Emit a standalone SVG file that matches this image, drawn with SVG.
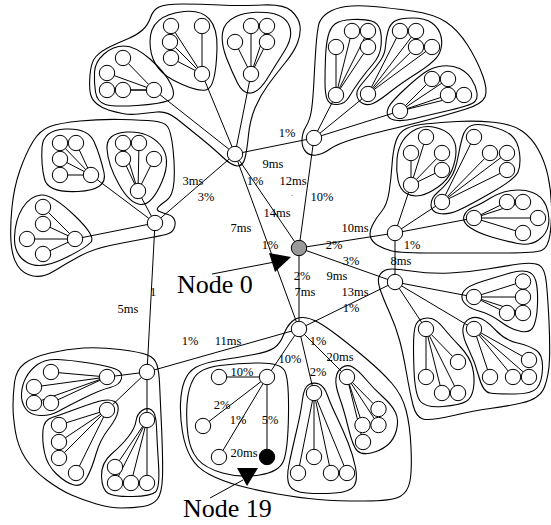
<svg xmlns="http://www.w3.org/2000/svg" width="551" height="525" viewBox="0 0 551 525">
<style>
.o{fill:none;stroke:#000;stroke-width:1.1}
.e{fill:none;stroke:#000;stroke-width:1}
.n circle{fill:#fff;stroke:#000;stroke-width:1}
.t{font-family:"Liberation Serif","Times New Roman",serif;font-size:12.5px;text-anchor:middle;fill:#000}
.big{font-family:"Liberation Serif","Times New Roman",serif;font-size:26px;fill:#000}
</style>
<rect width="551" height="525" fill="#fff"/>
<g id="outlines">
<path class="o" d="M90,75 Q91,62 96,56.5 Q101,51 110.5,46.5 Q120,42 128.5,38.5 Q137,35 142.5,30 Q148,25 150.5,17.5 Q153,10 159,7 Q165,4 182.5,4 Q200,4 220,5 Q240,6 262,5 Q284,4 291.5,11 Q299,18 300,26 Q301,34 297.5,43 Q294,52 285,63 Q276,74 268,85 Q260,96 255,108 Q250,120 248.5,135 Q247,150 245,158 Q243,166 237.5,166 Q232,166 222.5,157 Q213,148 200,137.5 Q187,127 177,119 Q167,111 157,112 Q147,113 138.5,114 Q130,115 122.5,113.5 Q115,112 108.5,110 Q102,108 97,104 Q92,100 90.5,94 Q89,88 90,75 Z"/>
<path class="o" d="M94.5,72 Q95,62 104,54 Q113,46 124,46 Q135,46 150,59 Q165,72 171,84.5 Q177,97 168.5,100.5 Q160,104 137,105.5 Q114,107 105.5,104.5 Q97,102 95.5,92 Q94,82 94.5,72 Z"/>
<path class="o" d="M150,41.5 Q150,15 184,11.5 Q218,8 217,48 Q216,88 206,90 Q196,92 173,80 Q150,68 150,41.5 Z"/>
<path class="o" d="M222.5,33 Q224,22 236,16.5 Q248,11 266,12.5 Q284,14 289,25 Q294,36 284.5,51 Q275,66 267,79 Q259,92 251,93 Q243,94 237.5,83 Q232,72 226.5,58 Q221,44 222.5,33 Z"/>
<path class="o" d="M12,207 Q14,187 20,170 Q26,153 33,141.5 Q40,130 50,126.5 Q60,123 80,121 Q100,119 121.5,119.5 Q143,120 153.5,121 Q164,122 167.5,126.5 Q171,131 173,149 Q175,167 174,181.5 Q173,196 166.5,200.5 Q160,205 158,207.5 Q156,210 159.5,211.5 Q163,213 168,214.5 Q173,216 174.5,220 Q176,224 174,228.5 Q172,233 166,234.5 Q160,236 143.5,239 Q127,242 110,245.5 Q93,249 80,256 Q67,263 55,270.5 Q43,278 33,276 Q23,274 17.5,265.5 Q12,257 11,242 Q10,227 12,207 Z"/>
<path class="o" d="M42,147.5 Q43,130 65.5,129 Q88,128 94,141.5 Q100,155 104,172.5 Q108,190 78,191.5 Q48,193 44.5,179 Q41,165 42,147.5 Z"/>
<path class="o" d="M107,149 Q106,133 127,132 Q148,131 160,144.5 Q172,158 162,181.5 Q152,205 141,204.5 Q130,204 119,184.5 Q108,165 107,149 Z"/>
<path class="o" d="M22.5,208 Q30,196 41,195 Q52,194 74,215 Q96,236 91,242 Q86,248 63,259 Q40,270 27,262.5 Q14,255 14.5,237.5 Q15,220 22.5,208 Z"/>
<path class="o" d="M316,46.5 Q317,33 318.5,25.5 Q320,18 327.5,13 Q335,8 346,6.5 Q357,5 373.5,6.5 Q390,8 412,11 Q434,14 446,22 Q458,30 467.5,45 Q477,60 482.5,75 Q488,90 485,97 Q482,104 466,109 Q450,114 427.5,120 Q405,126 387.5,130 Q370,134 353.5,139 Q337,144 330,149 Q323,154 316.5,155 Q310,156 306,152 Q302,148 302,140.5 Q302,133 306,126.5 Q310,120 311.5,110 Q313,100 314,80 Q315,60 316,46.5 Z"/>
<path class="o" d="M325.5,57.5 Q326,45 328,36.5 Q330,28 335,24 Q340,20 352.5,19.5 Q365,19 371.5,21 Q378,23 380,29.5 Q382,36 381,46 Q380,56 373,64 Q366,72 359.5,81 Q353,90 349,97 Q345,104 337.5,104.5 Q330,105 327.5,100 Q325,95 325,82.5 Q325,70 325.5,57.5 Z"/>
<path class="o" d="M385.5,46 Q386,38 388,31 Q390,24 395,21 Q400,18 412.5,18 Q425,18 432,23 Q439,28 441,36.5 Q443,45 439.5,53 Q436,61 418,72.5 Q400,84 390,92 Q380,100 374,103 Q368,106 363,103.5 Q358,101 357,96 Q356,91 360.5,85.5 Q365,80 370.5,73.5 Q376,67 380.5,60.5 Q385,54 385.5,46 Z"/>
<path class="o" d="M388,116 Q386,112 389,106.5 Q392,101 405,89 Q418,77 425.5,72 Q433,67 442.5,66 Q452,65 459.5,68.5 Q467,72 471.5,79 Q476,86 477,93 Q478,100 473,103 Q468,106 446.5,111 Q425,116 415,118.5 Q405,121 397.5,120.5 Q390,120 388,116 Z"/>
<path class="o" d="M370.5,237 Q369,232 372.5,225 Q376,218 381.5,211.5 Q387,205 389,192.5 Q391,180 392,165 Q393,150 396,141 Q399,132 406.5,128.5 Q414,125 427,123.75 Q440,122.5 457.5,121.5 Q475,120.5 493.5,122.25 Q512,124 522,131 Q532,138 538.5,150 Q545,162 548,176 Q551,190 551.5,205.5 Q552,221 550,234.5 Q548,248 541.5,250.5 Q535,253 502.5,253 Q470,253 435,253 Q400,253 392,251 Q384,249 378,245.5 Q372,242 370.5,237 Z"/>
<path class="o" d="M397,159 Q398,148 403,140.5 Q408,133 416.5,129 Q425,125 435.5,127.5 Q446,130 451,136 Q456,142 456,151 Q456,160 452,170 Q448,180 438,187 Q428,194 420.5,195.5 Q413,197 406.5,193.5 Q400,190 398,180 Q396,170 397,159 Z"/>
<path class="o" d="M431,205 Q431,198 437.5,192.5 Q444,187 448.5,181 Q453,175 455,169 Q457,163 458.5,154.5 Q460,146 462.5,137 Q465,128 471.5,125.5 Q478,123 491.5,126.5 Q505,130 511.5,135.5 Q518,141 519.5,153 Q521,165 518,172 Q515,179 492.5,192 Q470,205 459,210 Q448,215 439.5,213.5 Q431,212 431,205 Z"/>
<path class="o" d="M470,227.5 Q462,222 464,216 Q466,210 473.5,207 Q481,204 490.5,198 Q500,192 511.5,190.5 Q523,189 532.5,192.5 Q542,196 546,205.5 Q550,215 548.5,224.5 Q547,234 538.5,240 Q530,246 517.5,243.5 Q505,241 491.5,237 Q478,233 470,227.5 Z"/>
<path class="o" d="M380,289 Q377,280 379.5,275.5 Q382,271 387,269.5 Q392,268 411,271 Q430,274 450,273 Q470,272 487.5,269 Q505,266 519,264 Q533,262 539,265 Q545,268 546.5,284 Q548,300 549,321.5 Q550,343 549.5,359 Q549,375 544.5,387 Q540,399 521.5,403 Q503,407 490,408.5 Q477,410 453.5,415.5 Q430,421 423,419 Q416,417 413,405 Q410,393 406.5,373 Q403,353 399.5,340 Q396,327 389.5,312.5 Q383,298 380,289 Z"/>
<path class="o" d="M464,302.5 Q460,297 463.5,291.5 Q467,286 483.5,281 Q500,276 510,273 Q520,270 527,271.5 Q534,273 536,281.5 Q538,290 537.5,304 Q537,318 534,325.5 Q531,333 521.5,331.5 Q512,330 501,322 Q490,314 479,311 Q468,308 464,302.5 Z"/>
<path class="o" d="M431.5,318.5 Q426,317 420.5,319.5 Q415,322 414,333.5 Q413,345 414,370 Q415,395 420.5,401.5 Q426,408 443,406.5 Q460,405 466,401.5 Q472,398 473.5,388 Q475,378 472.5,367.5 Q470,357 460,346.5 Q450,336 443.5,328 Q437,320 431.5,318.5 Z"/>
<path class="o" d="M463,328.5 Q464,321 470,318.5 Q476,316 482,319 Q488,322 496.5,331 Q505,340 517.5,343 Q530,346 536.5,350.5 Q543,355 542.5,368.5 Q542,382 537,388 Q532,394 514.5,394 Q497,394 490,393 Q483,392 479,377 Q475,362 468.5,349 Q462,336 463,328.5 Z"/>
<path class="o" d="M182.5,432 Q180,417 180.5,403.5 Q181,390 184.5,381 Q188,372 195.5,367.5 Q203,363 221.5,360 Q240,357 254,354.5 Q268,352 274,348 Q280,344 283.5,335 Q287,326 292,321.5 Q297,317 303.5,317.5 Q310,318 317.5,322 Q325,326 337.5,335.5 Q350,345 366,358.5 Q382,372 392,383.5 Q402,395 406,410 Q410,425 411,447.5 Q412,470 410,481 Q408,492 400,496.5 Q392,501 364.5,501 Q337,501 318.5,499.5 Q300,498 277.5,494 Q255,490 238.5,485.5 Q222,481 209.5,474.5 Q197,468 191,457.5 Q185,447 182.5,432 Z"/>
<path class="o" d="M302.5,399.5 Q304,387 309,384.5 Q314,382 319,384 Q324,386 327.5,395.5 Q331,405 337,417.5 Q343,430 348,442.5 Q353,455 355.5,467.5 Q358,480 354,486 Q350,492 335,493 Q320,494 306.5,493 Q293,492 289.5,485.5 Q286,479 289,464.5 Q292,450 296.5,431 Q301,412 302.5,399.5 Z"/>
<path class="o" d="M336,378 Q337,371 342,367.5 Q347,364 352.5,367 Q358,370 366,379.5 Q374,389 383,397 Q392,405 395.5,412.5 Q399,420 396.5,430 Q394,440 387,445.5 Q380,451 371,453 Q362,455 357.5,451 Q353,447 348.5,428.5 Q344,410 339.5,397.5 Q335,385 336,378 Z"/>
<path class="o" d="M187,404 Q188,388 194,378 Q200,368 220,365.5 Q240,363 260,363 Q280,363 284.5,370.5 Q289,378 288.5,414 Q288,450 283.5,461 Q279,472 259.5,475 Q240,478 222.5,473 Q205,468 197.5,459 Q190,450 188,435 Q186,420 187,404 Z"/>
<path class="o" d="M13,406 Q13,395 14.5,382.5 Q16,370 24.5,363.5 Q33,357 50,353 Q67,349 83.5,348 Q100,347 120,349.5 Q140,352 147.5,355 Q155,358 157,365 Q159,372 159.5,382.5 Q160,393 161.5,426.5 Q163,460 162.5,476.5 Q162,493 157.5,499 Q153,505 143,506.5 Q133,508 121.5,508 Q110,508 96.5,504 Q83,500 71.5,495 Q60,490 46.5,480 Q33,470 25.5,458.5 Q18,447 15.5,432 Q13,417 13,406 Z"/>
<path class="o" d="M21.5,393.5 Q22,385 26,377.5 Q30,370 37.5,364.5 Q45,359 57.5,359.5 Q70,360 89,363 Q108,366 115.5,369 Q123,372 121.5,378.5 Q120,385 110,387.5 Q100,390 83,398.5 Q66,407 58,411.5 Q50,416 40,415.5 Q30,415 25.5,408.5 Q21,402 21.5,393.5 Z"/>
<path class="o" d="M43,430 Q44,420 52,417.5 Q60,415 77.5,408.5 Q95,402 102.5,400.5 Q110,399 114.5,401.5 Q119,404 118,411 Q117,418 108.5,429 Q100,440 96,454 Q92,468 87,477.5 Q82,487 74,485 Q66,483 56.5,474 Q47,465 44.5,452.5 Q42,440 43,430 Z"/>
<path class="o" d="M136,421 Q137,414 142,410.5 Q147,407 151.5,410 Q156,413 156.5,426.5 Q157,440 158.5,464 Q160,488 155.5,492 Q151,496 133,496.5 Q115,497 108.5,493.5 Q102,490 101.5,476.5 Q101,463 111.5,454 Q122,445 128.5,436.5 Q135,428 136,421 Z"/>
</g>
<g id="connectors">
<path class="e" d="M235,154L314,138M235,154L155,223M235,154L299,248M235,154L299,329M299,248L314,138M299,248L395,233M299,248L395,282M299,248L299,329M395,233L395,282M395,282L299,329M299,329L147,372M155,223L147,372M299,329L267,377M299,329L314,393M299,329L347,377"/>
<path class="e" d="M235,154L154,90M235,154L202,74M235,154L251,74M155,223L91,175M155,223L138,191M155,223L75,239M314,138L336,95M314,138L368,94M314,138L400,111M395,233L411,185M395,233L442,202M395,233L474,218M395,282L474,297M395,282L426,329M395,282L474,329M147,372L107,377M147,372L107,410M147,372L147,420M267,377L219,377M267,377L203,426M267,377L219,457M267,377L267,457"/>
<path class="e" d="M154,90L123,58M154,90L107,73M154,90L107,90M154,90L123,90
M202,74L171,26M202,74L170,42M202,74L171,58M202,74L202,26
M251,74L251,26M251,74L267,26M251,74L235,42M251,74L267,42
M91,175L60,143M91,175L76,143M91,175L60,159M91,175L60,175
M138,191L123,143M138,191L139,143M138,191L123,159M138,191L154,159
M75,239L43,207M75,239L43,224M75,239L27,239M75,239L43,254
M336,95L352,31M336,95L368,31M336,95L336,47M336,95L368,47
M368,94L400,31M368,94L416,31M368,94L416,47M368,94L432,47
M400,111L432,79M400,111L448,79M400,111L448,95M400,111L464,95
M411,185L426,137M411,185L411,153M411,185L442,153M411,185L442,170
M442,202L474,137M442,202L490,153M442,202L507,153M442,202L507,170
M474,218L507,202M474,218L523,202M474,218L538,218M474,218L523,233
M474,297L523,281.5M474,297L523,297M474,297L507,313M474,297L523,313
M426,329L458,362M426,329L426,377M426,329L442,393M426,329L458,393
M474,329L529,360M474,329L490,377M474,329L513,377M474,329L529,377
M314,393L314,457M314,393L298,473M314,393L331,473M314,393L347,473
M347,377L378.5,409M347,377L362.5,425M347,377L378.5,425M347,377L363,442
M107,377L51,372M107,377L34,387M107,377L34,403M107,377L51,403
M107,410L59,425M107,410L59,442M107,410L59,458M107,410L76,473
M147,420L115,467M147,420L115,483M147,420L131,483M147,420L147,483"/>
</g>
<g id="nodes" class="n">
<g id="node0"><circle cx="299" cy="248" r="7.7" style="fill:#9a9a9a"/></g>
<g id="hubA"><circle cx="235" cy="154" r="7.7"/></g>
<g id="hubB"><circle cx="155" cy="223" r="7.7"/></g>
<g id="hubC"><circle cx="314" cy="138" r="7.7"/></g>
<g id="hubD"><circle cx="395" cy="233" r="7.7"/></g>
<g id="hubE"><circle cx="395" cy="282" r="7.7"/></g>
<g id="hubF"><circle cx="299" cy="329" r="7.7"/></g>
<g id="hubG"><circle cx="147" cy="372" r="7.7"/></g>
<g id="hubH"><circle cx="267" cy="377" r="7.7"/></g>
<g id="node19"><circle cx="267" cy="457" r="7.7" style="fill:#000"/></g>
<g id="c1"><circle cx="154" cy="90" r="7.7"/><circle cx="123" cy="58" r="7.7"/><circle cx="107" cy="73" r="7.7"/><circle cx="107" cy="90" r="7.7"/><circle cx="123" cy="90" r="7.7"/></g>
<g id="c2"><circle cx="202" cy="74" r="7.7"/><circle cx="171" cy="26" r="7.7"/><circle cx="170" cy="42" r="7.7"/><circle cx="171" cy="58" r="7.7"/><circle cx="202" cy="26" r="7.7"/></g>
<g id="c3"><circle cx="251" cy="74" r="7.7"/><circle cx="251" cy="26" r="7.7"/><circle cx="267" cy="26" r="7.7"/><circle cx="235" cy="42" r="7.7"/><circle cx="267" cy="42" r="7.7"/></g>
<g id="c4"><circle cx="91" cy="175" r="7.7"/><circle cx="60" cy="143" r="7.7"/><circle cx="76" cy="143" r="7.7"/><circle cx="60" cy="159" r="7.7"/><circle cx="60" cy="175" r="7.7"/></g>
<g id="c5"><circle cx="138" cy="191" r="7.7"/><circle cx="123" cy="143" r="7.7"/><circle cx="139" cy="143" r="7.7"/><circle cx="123" cy="159" r="7.7"/><circle cx="154" cy="159" r="7.7"/></g>
<g id="c6"><circle cx="75" cy="239" r="7.7"/><circle cx="43" cy="207" r="7.7"/><circle cx="43" cy="224" r="7.7"/><circle cx="27" cy="239" r="7.7"/><circle cx="43" cy="254" r="7.7"/></g>
<g id="c7"><circle cx="336" cy="95" r="7.7"/><circle cx="352" cy="31" r="7.7"/><circle cx="368" cy="31" r="7.7"/><circle cx="336" cy="47" r="7.7"/><circle cx="368" cy="47" r="7.7"/></g>
<g id="c8"><circle cx="368" cy="94" r="7.7"/><circle cx="400" cy="31" r="7.7"/><circle cx="416" cy="31" r="7.7"/><circle cx="416" cy="47" r="7.7"/><circle cx="432" cy="47" r="7.7"/></g>
<g id="c9"><circle cx="400" cy="111" r="7.7"/><circle cx="432" cy="79" r="7.7"/><circle cx="448" cy="79" r="7.7"/><circle cx="448" cy="95" r="7.7"/><circle cx="464" cy="95" r="7.7"/></g>
<g id="c10"><circle cx="411" cy="185" r="7.7"/><circle cx="426" cy="137" r="7.7"/><circle cx="411" cy="153" r="7.7"/><circle cx="442" cy="153" r="7.7"/><circle cx="442" cy="170" r="7.7"/></g>
<g id="c11"><circle cx="442" cy="202" r="7.7"/><circle cx="474" cy="137" r="7.7"/><circle cx="490" cy="153" r="7.7"/><circle cx="507" cy="153" r="7.7"/><circle cx="507" cy="170" r="7.7"/></g>
<g id="c12"><circle cx="474" cy="218" r="7.7"/><circle cx="507" cy="202" r="7.7"/><circle cx="523" cy="202" r="7.7"/><circle cx="538" cy="218" r="7.7"/><circle cx="523" cy="233" r="7.7"/></g>
<g id="c13"><circle cx="474" cy="297" r="7.7"/><circle cx="523" cy="281.5" r="7.7"/><circle cx="523" cy="297" r="7.7"/><circle cx="507" cy="313" r="7.7"/><circle cx="523" cy="313" r="7.7"/></g>
<g id="c14"><circle cx="426" cy="329" r="7.7"/><circle cx="458" cy="362" r="7.7"/><circle cx="426" cy="377" r="7.7"/><circle cx="442" cy="393" r="7.7"/><circle cx="458" cy="393" r="7.7"/></g>
<g id="c15"><circle cx="474" cy="329" r="7.7"/><circle cx="529" cy="360" r="7.7"/><circle cx="490" cy="377" r="7.7"/><circle cx="513" cy="377" r="7.7"/><circle cx="529" cy="377" r="7.7"/></g>
<g id="c16"><circle cx="314" cy="393" r="7.7"/><circle cx="314" cy="457" r="7.7"/><circle cx="298" cy="473" r="7.7"/><circle cx="331" cy="473" r="7.7"/><circle cx="347" cy="473" r="7.7"/></g>
<g id="c17"><circle cx="347" cy="377" r="7.7"/><circle cx="378.5" cy="409" r="7.7"/><circle cx="362.5" cy="425" r="7.7"/><circle cx="378.5" cy="425" r="7.7"/><circle cx="363" cy="442" r="7.7"/></g>
<g id="c18"><circle cx="219" cy="377" r="7.7"/><circle cx="203" cy="426" r="7.7"/><circle cx="219" cy="457" r="7.7"/></g>
<g id="c19"><circle cx="107" cy="377" r="7.7"/><circle cx="51" cy="372" r="7.7"/><circle cx="34" cy="387" r="7.7"/><circle cx="34" cy="403" r="7.7"/><circle cx="51" cy="403" r="7.7"/></g>
<g id="c20"><circle cx="107" cy="410" r="7.7"/><circle cx="59" cy="425" r="7.7"/><circle cx="59" cy="442" r="7.7"/><circle cx="59" cy="458" r="7.7"/><circle cx="76" cy="473" r="7.7"/></g>
<g id="c21"><circle cx="147" cy="420" r="7.7"/><circle cx="115" cy="467" r="7.7"/><circle cx="115" cy="483" r="7.7"/><circle cx="131" cy="483" r="7.7"/><circle cx="147" cy="483" r="7.7"/></g>
</g>
<g id="labels">
<text class="t" x="287" y="137">1%</text>
<text class="t" x="273" y="168">9ms</text>
<text class="t" x="255" y="185">1%</text>
<text class="t" x="293" y="185">12ms</text>
<text class="t" x="193" y="185">3ms</text>
<text class="t" x="206" y="201">3%</text>
<text class="t" x="292" y="196" style="font-size:7px">.</text>
<text class="t" x="322" y="201">10%</text>
<text class="t" x="277" y="217">14ms</text>
<text class="t" x="241" y="232">7ms</text>
<text class="t" x="355" y="232">10ms</text>
<text class="t" x="270" y="249">1%</text>
<text class="t" x="334" y="249">2%</text>
<text class="t" x="412" y="249">1%</text>
<text class="t" x="351" y="265">3%</text>
<text class="t" x="401" y="265">8ms</text>
<text class="t" x="302" y="280">2%</text>
<text class="t" x="337" y="280">9ms</text>
<text class="t" x="305" y="296">7ms</text>
<text class="t" x="355" y="296">13ms</text>
<text class="t" x="351" y="312">1%</text>
<text class="t" x="153" y="296">1</text>
<text class="t" x="128" y="313">5ms</text>
<text class="t" x="190" y="345">1%</text>
<text class="t" x="228" y="345">11ms</text>
<text class="t" x="318" y="345">1%</text>
<text class="t" x="340" y="361">20ms</text>
<text class="t" x="290" y="363">10%</text>
<text class="t" x="242" y="376">10%</text>
<text class="t" x="318" y="376">2%</text>
<text class="t" x="222" y="409">2%</text>
<text class="t" x="238" y="424">1%</text>
<text class="t" x="270" y="424">5%</text>
<text class="t" x="244" y="457">20ms</text>
</g>
<g id="callouts">
<line class="e" x1="212" y1="274" x2="272" y2="262.5"/>
<polygon points="269,253 275,272 291,257" fill="#000"/>
<text class="big" x="177" y="293">Node 0</text>
<line class="e" x1="210" y1="498" x2="243" y2="480"/>
<polygon points="237,468 258,468 247,486" fill="#000"/>
<text class="big" x="183" y="517">Node 19</text>
</g>
</svg>
